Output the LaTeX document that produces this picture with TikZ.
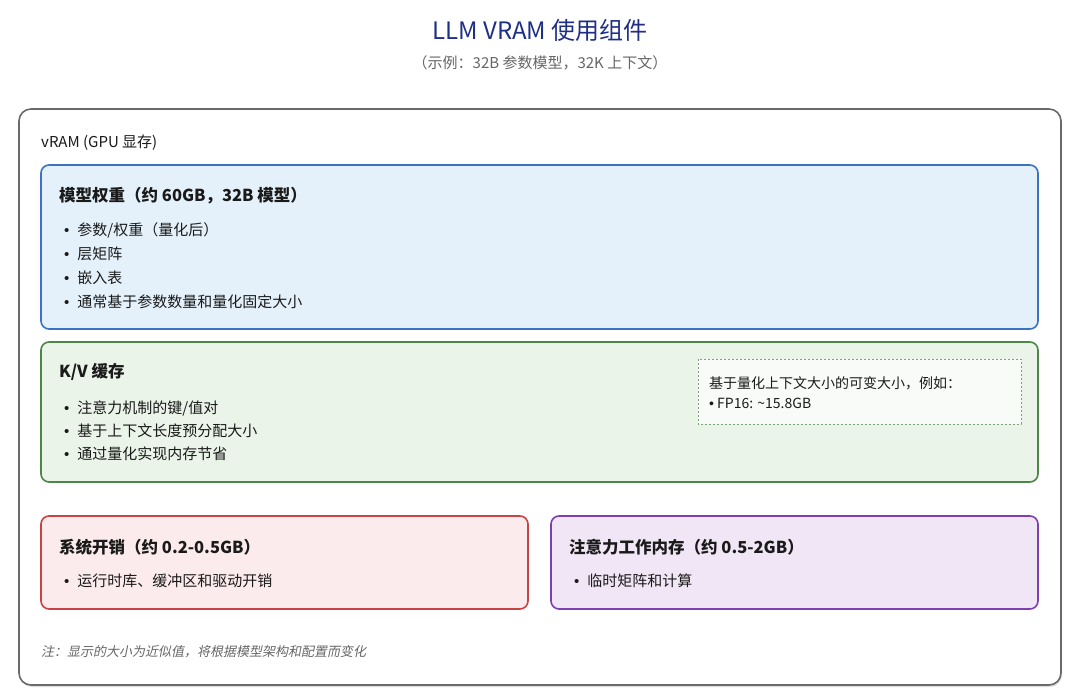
\documentclass[tikz,border=0pt]{standalone}
\usepackage{fontspec}
\setmainfont{Noto Sans CJK SC}
\newfontfamily\latinfont{Liberation Sans}
\newfontfamily\notefont[FakeSlant=0.2]{Noto Sans CJK SC}
\newcommand{\bul}{{\latinfont •}\hspace{8pt}}
\usetikzlibrary{shadows}
\definecolor{titleblue}{HTML}{1F2F86}
\definecolor{subgray}{HTML}{666666}
\definecolor{outerborder}{HTML}{6A6A6A}
\definecolor{bluefill}{HTML}{E4F1FB}
\definecolor{blueborder}{HTML}{3C72C2}
\definecolor{greenfill}{HTML}{EAF4E8}
\definecolor{greenborder}{HTML}{4C8748}
\definecolor{dashborder}{HTML}{7FA47C}
\definecolor{dashfill}{HTML}{F8FBF7}
\definecolor{redfill}{HTML}{FCEBEC}
\definecolor{redborder}{HTML}{C84444}
\definecolor{purplefill}{HTML}{F1E6F5}
\definecolor{purpleborder}{HTML}{7E40B0}
\definecolor{txt}{HTML}{1A1A1A}
\tikzset{
  panel/.style={rounded corners=8pt, line width=1.6pt},
  heading/.style={anchor=west, inner sep=0pt, font=\fontsize{16.5}{18}\selectfont\bfseries, text=txt},
  item/.style={anchor=west, inner sep=0pt, font=\fontsize{15}{17}\selectfont, text=txt},
  small/.style={anchor=west, inner sep=0pt, font=\fontsize{14}{16}\selectfont, text=txt},
}
\begin{document}
\begin{tikzpicture}[x=1pt,y=-1pt]
\useasboundingbox[fill=white] (0,0) rectangle (1080,699);
\node[inner sep=0pt, font=\fontsize{24}{27}\selectfont, text=titleblue] (title) at (540,30) {LLM VRAM 使用组件};
\node[inner sep=0pt, font=\fontsize{15}{17}\selectfont, text=subgray] (sub) at (540,63) {（示例：32B 参数模型，32K 上下文）};
% outer
\draw[rounded corners=12pt, line width=1.6pt, draw=outerborder, fill=white, drop shadow={shadow xshift=1pt, shadow yshift=-2pt, opacity=0.25}] (19,109) rectangle (1061,685);
\node[item] (vram) at (41,143) {vRAM (GPU 显存)};
% blue
\draw[panel, draw=blueborder, fill=bluefill] (41,165) rectangle (1038,329);
\node[heading] (h1) at (59,196) {模型权重（约 60GB，32B 模型）};
\node[item] (b11) at (64,230) {\bul 参数/权重（量化后）};
\node[item] (b12) at (64,254) {\bul 层矩阵};
\node[item] (b13) at (64,278) {\bul 嵌入表};
\node[item] (b14) at (64,302) {\bul 通常基于参数数量和量化固定大小};
% green
\draw[panel, draw=greenborder, fill=greenfill] (41,342) rectangle (1038,482);
\node[heading] (h2) at (59,372) {K/V 缓存};
\node[item] (b21) at (64,408) {\bul 注意力机制的键/值对};
\node[item] (b22) at (64,431) {\bul 基于上下文长度预分配大小};
\node[item] (b23) at (64,454) {\bul 通过量化实现内存节省};
\draw[dashed, dash pattern=on 2pt off 2pt, draw=dashborder, fill=dashfill, line width=0.8pt] (698,359) rectangle (1021,424);
\node[small] (d1) at (709,383) {基于量化上下文大小的可变大小，例如：};
\node[small] (d2) at (709,403) {{\latinfont •} FP16: \textasciitilde 15.8GB};
% red
\draw[panel, draw=redborder, fill=redfill] (41,516) rectangle (528,609);
\node[heading] (h3) at (59,547) {系统开销（约 0.2-0.5GB）};
\node[item] (b31) at (64,581) {\bul 运行时库、缓冲区和驱动开销};
% purple
\draw[panel, draw=purpleborder, fill=purplefill] (551,516) rectangle (1038,609);
\node[heading] (h4) at (569,547) {注意力工作内存（约 0.5-2GB）};
\node[item] (b41) at (574,581) {\bul 临时矩阵和计算};
% note
\node[anchor=west, inner sep=0pt, font=\fontsize{13}{15}\selectfont\notefont, text=subgray] (note) at (41,652) {注：显示的大小为近似值，将根据模型架构和配置而变化};
\end{tikzpicture}
\end{document}
